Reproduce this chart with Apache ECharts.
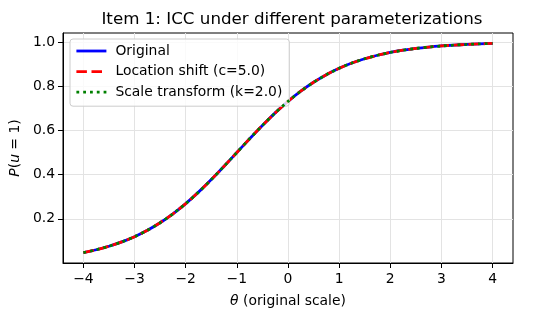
<!DOCTYPE html>
<html>
<head>
<meta charset="utf-8">
<script src="https://cdn.jsdelivr.net/npm/echarts@6/dist/echarts.min.js"></script>
<style>
html,body{margin:0;padding:0;background:#fff;}
#c{width:538px;height:320px;}
</style>
</head>
<body>
<div id="c"></div>
<script>
// theta grid (original scale)
const theta = [-4, -3.75, -3.5, -3.25, -3, -2.75, -2.5, -2.25, -2, -1.75, -1.5, -1.25, -1, -0.75, -0.5, -0.25, 0,
  0.25, 0.5, 0.75, 1, 1.25, 1.5, 1.75, 2, 2.25, 2.5, 2.75, 3, 3.25, 3.5, 3.75, 4];
// P(u=1)
const original = [0.0474, 0.0601, 0.0759, 0.0954, 0.1192, 0.1481, 0.1824, 0.2227, 0.2689, 0.3208, 0.3775, 0.4378, 0.5000,
  0.5622, 0.6225, 0.6792, 0.7311, 0.7773, 0.8176, 0.8520, 0.8808, 0.9047, 0.9241, 0.9399, 0.9526, 0.9627, 0.9707, 0.9770,
  0.9820, 0.9859, 0.9890, 0.9914, 0.9933];
const locationShift = [0.0474, 0.0601, 0.0759, 0.0954, 0.1192, 0.1481, 0.1824, 0.2227, 0.2689, 0.3208, 0.3775, 0.4378, 0.5000,
  0.5622, 0.6225, 0.6792, 0.7311, 0.7773, 0.8176, 0.8520, 0.8808, 0.9047, 0.9241, 0.9399, 0.9526, 0.9627, 0.9707, 0.9770,
  0.9820, 0.9859, 0.9890, 0.9914, 0.9933];
const scaleTransform = [0.0474, 0.0601, 0.0759, 0.0954, 0.1192, 0.1481, 0.1824, 0.2227, 0.2689, 0.3208, 0.3775, 0.4378, 0.5000,
  0.5622, 0.6225, 0.6792, 0.7311, 0.7773, 0.8176, 0.8520, 0.8808, 0.9047, 0.9241, 0.9399, 0.9526, 0.9627, 0.9707, 0.9770,
  0.9820, 0.9859, 0.9890, 0.9914, 0.9933];
const xTicks = [-4, -3, -2, -1, 0, 1, 2, 3, 4];
const yTicks = [0.2, 0.4, 0.6, 0.8, 1.0];
const seriesNames = ['Original', 'Location shift (c=5.0)', 'Scale transform (k=2.0)'];

const FONT = 'DejaVu Sans';
const pair = arr => theta.map((t, i) => [t, arr[i]]);

const chart = echarts.init(document.getElementById('c'), null, {renderer: 'canvas'});
chart.setOption({
  animation: false,
  backgroundColor: '#fff',
  title: {
    text: 'Item 1: ICC under different parameterizations',
    left: 287, textAlign: 'center', top: 6,
    textStyle: {fontFamily: FONT, fontSize: 16.7, fontWeight: 'normal', color: '#000'}
  },
  grid: {left: 61, right: 25, top: 33, bottom: 57, show: true, borderColor: '#000', borderWidth: 1, backgroundColor: 'transparent'},
  legend: {
    orient: 'vertical', left: 70, top: 39,
    padding: [5, 7, 7, 5],
    itemWidth: 30, itemHeight: 14, itemGap: 6.6,
    backgroundColor: 'rgba(255,255,255,0.8)',
    borderColor: '#cccccc', borderWidth: 1, borderRadius: 3,
    itemStyle: {opacity: 0},
    lineStyle: {width: 2.8},
    textStyle: {fontFamily: FONT, fontSize: 13.9, color: '#000', padding: [0, 0, 0, 4]},
    data: seriesNames
  },
  xAxis: {
    type: 'value', min: -4.4, max: 4.4,
    name: '{i|θ} (original scale)', nameLocation: 'middle', nameGap: 31,
    nameTextStyle: {fontFamily: FONT, fontSize: 13.9, color: '#000',
      rich: {i: {fontFamily: FONT, fontSize: 13.9, fontStyle: 'italic', color: '#000'}}},
    axisLine: {show: true, onZero: false, lineStyle: {color: '#000', width: 1}},
    axisTick: {show: true, length: 5, lineStyle: {color: '#000', width: 1}, customValues: xTicks},
    axisLabel: {customValues: xTicks, fontFamily: FONT, fontSize: 13.9, color: '#000', margin: 9,
      formatter: v => (v < 0 ? '\u2212' + Math.abs(v) : String(v))},
    splitLine: {show: true, lineStyle: {color: '#e3e3e3', width: 1}}
  },
  yAxis: {
    type: 'value', min: 0.0001, max: 1.0406,
    name: '{i|P}({i|u} = 1)', nameLocation: 'middle', nameGap: 35, nameRotate: 90,
    nameTextStyle: {fontFamily: FONT, fontSize: 13.9, color: '#000',
      rich: {i: {fontFamily: FONT, fontSize: 13.9, fontStyle: 'italic', color: '#000'}}},
    axisLine: {show: true, onZero: false, lineStyle: {color: '#000', width: 1}},
    axisTick: {show: true, length: 5, lineStyle: {color: '#000', width: 1}, customValues: yTicks},
    axisLabel: {customValues: yTicks, fontFamily: FONT, fontSize: 13.9, color: '#000', margin: 8,
      formatter: v => v.toFixed(1)},
    splitLine: {show: true, lineStyle: {color: '#e3e3e3', width: 1}}
  },
  series: [
    {name: seriesNames[0], type: 'line', data: pair(original), showSymbol: false, symbol: 'none',
      smooth: 0.3, color: '#0000ff', lineStyle: {color: '#0000ff', width: 2.8, type: 'solid'}, z: 2},
    {name: seriesNames[1], type: 'line', data: pair(locationShift), showSymbol: false, symbol: 'none',
      smooth: 0.3, color: '#ff0000', lineStyle: {color: '#ff0000', width: 2.8, type: [10.5, 4.6], cap: 'butt'}, z: 3},
    {name: seriesNames[2], type: 'line', data: pair(scaleTransform), showSymbol: false, symbol: 'none',
      smooth: 0.3, color: '#008000', lineStyle: {color: '#008000', width: 2.8, type: [2.8, 4.0], cap: 'butt'}, z: 4}
  ]
});
</script>
</body>
</html>
